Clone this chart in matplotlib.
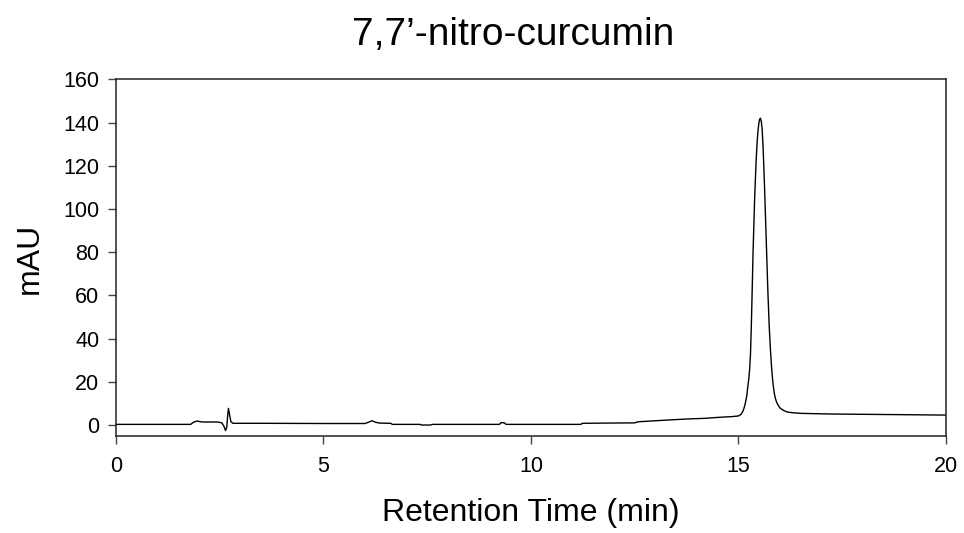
import matplotlib
matplotlib.use('Agg')
import matplotlib.pyplot as plt

# --- Datos del cromatograma ---
TITULO = "7,7\u2019-nitro-curcumin"
ETIQUETA_X = 'Retention Time (min)'
ETIQUETA_Y = 'mAU'

tiempo_min = [
    0.00, 1.80, 1.86, 1.95, 2.05, 2.10, 2.45, 2.55, 2.60, 2.64, 2.67, 2.69,
    2.71, 2.74, 2.77, 2.82, 3.50, 5.00, 6.00, 6.10, 6.17, 6.25, 6.35, 6.62,
    6.66, 7.33, 7.36, 7.58, 7.62, 9.24, 9.28, 9.36, 9.40, 11.20, 11.24, 12.50,
    12.58, 13.20, 13.76, 14.20, 14.56, 14.85, 15.00, 15.06, 15.11, 15.14, 15.17,
    15.20, 15.22, 15.25, 15.27, 15.29, 15.31, 15.33, 15.35, 15.37, 15.39, 15.41,
    15.43, 15.45, 15.47, 15.49, 15.51, 15.53, 15.55, 15.57, 15.59, 15.61, 15.63,
    15.65, 15.67, 15.69, 15.71, 15.74, 15.77, 15.80, 15.83, 15.86, 15.89, 15.92,
    15.96, 16.00, 16.08, 16.18, 16.30, 16.50, 17.20, 18.90, 20.00,
]
absorbancia_mau = [
    0.3, 0.3, 1.2, 1.85, 1.5, 1.4, 1.4, 1.0, -0.5, -2.6, -1.0, 4.0,
    7.7, 4.5, 1.5, 0.8, 0.8, 0.7, 0.7, 1.4, 2.0, 1.3, 0.9, 0.8,
    0.3, 0.3, 0.0, 0.0, 0.3, 0.3, 1.1, 1.0, 0.3, 0.3, 0.8, 1.0,
    1.5, 2.2, 2.8, 3.1, 3.6, 3.9, 4.2, 4.9, 6.5, 8.2, 10.5,
    13.5, 17.0, 21.5, 26.0, 33.0, 46.0, 62.0, 79.0, 92.0, 105.0, 115.0,
    124.0, 131.0, 136.0, 139.5, 141.5, 142.0, 140.5, 137.0, 130.0, 120.0, 109.0,
    97.0, 85.0, 73.0, 61.0, 46.0, 35.0, 26.0, 19.5, 15.0, 12.3, 10.5,
    9.0, 7.9, 6.8, 6.0, 5.7, 5.4, 5.1, 4.8, 4.6,
]

x_ticks = [0, 5, 10, 15, 20]
y_ticks = [0, 20, 40, 60, 80, 100, 120, 140, 160]

plt.rcParams['font.family'] = ['Liberation Sans', 'DejaVu Sans']

fig = plt.figure(figsize=(9.64, 5.33), dpi=100)
ax = fig.add_axes([0.1203, 0.1811, 0.8610, 0.6701])

ax.plot(tiempo_min, absorbancia_mau, color='black', linewidth=1.0)

ax.set_xlim(0, 20)
ax.set_ylim(-5.3, 160)
ax.set_xticks(x_ticks)
ax.set_yticks(y_ticks)

for lado in ['left', 'right', 'top', 'bottom']:
    ax.spines[lado].set_linewidth(1.1)
    ax.spines[lado].set_color('#222222')

ax.tick_params(axis='both', direction='out', length=6, width=1.0,
               color='#444444', labelsize=15.5, pad=6)
ax.tick_params(axis='x', pad=8)
ax.tick_params(top=False, right=False)

ax.set_xlabel(ETIQUETA_X, fontsize=23, labelpad=15)
ax.set_ylabel(ETIQUETA_Y, fontsize=23, labelpad=13)

fig.text(513 / 964, 1 - 45 / 533, TITULO, fontsize=28, ha='center', va='baseline')

fig.savefig('out.png', dpi=100, facecolor='white')
